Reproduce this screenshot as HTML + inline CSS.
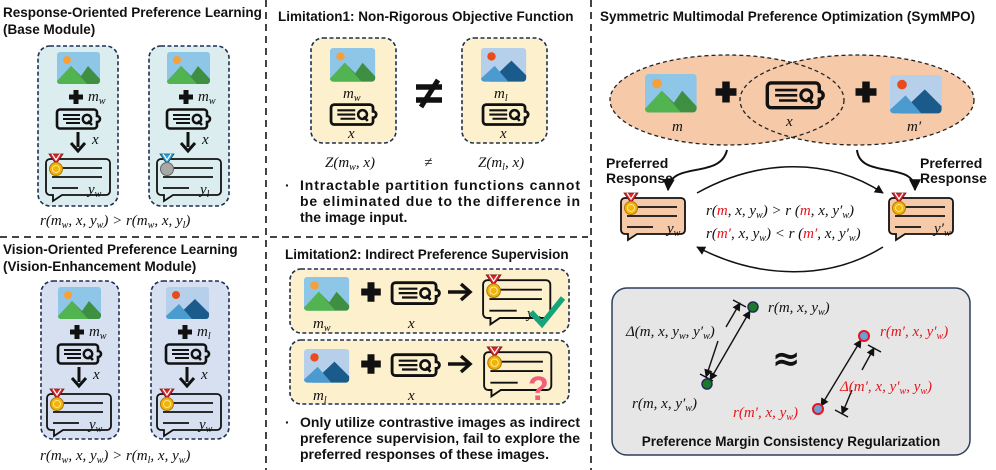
<!DOCTYPE html>
<html><head><meta charset="utf-8"><style>
html,body{margin:0;padding:0;background:#fff}
svg{display:block}
.t{font-family:"Liberation Sans",sans-serif;font-weight:bold;font-size:13.5px;fill:#111}
.b{font-family:"Liberation Sans",sans-serif;font-weight:bold;font-size:14px;fill:#111}
.m{font-family:"Liberation Serif",serif;font-style:italic;font-size:15px;fill:#111}
.r{fill:#e8141c}
</style></head><body>
<svg width="996" height="470" viewBox="0 0 996 470" xmlns="http://www.w3.org/2000/svg">
<defs>
<g id="imgG">
<rect x="0" y="0" width="43" height="32" rx="3" fill="#8ec6e8"/>
<circle cx="10" cy="8" r="4" fill="#f7a03a"/>
<path d="M0,30 L14,14 L24,24 L31,14 L43,27 V29 a3,3 0 0 1 -3,3 H3 a3,3 0 0 1 -3,-3Z" fill="#3f8f42"/>
<path d="M0,29 L14,14 L30,32 H3 a3,3 0 0 1 -3,-3Z" fill="#52b450"/>
</g>
<g id="imgB">
<rect x="0" y="0" width="43" height="32" rx="3" fill="#b6cfea"/>
<circle cx="10" cy="8" r="4" fill="#ea4a1c"/>
<path d="M8,32 L29,12 L43,26 V29 a3,3 0 0 1 -3,3Z" fill="#1a5b8c"/>
<path d="M0,29 L13,17 L26,32 H3 a3,3 0 0 1 -3,-3Z" fill="#4b9bd0"/>
</g>
<g id="qry" fill="none" stroke="#111">
<path d="M4,1.5 H38 a3,3 0 0 1 3,3 V8 a3,3 0 0 1 0,6 V17.5 a3,3 0 0 1 -3,3 H4 a3,3 0 0 1 -3,-3 V4.5 a3,3 0 0 1 3,-3Z" stroke-width="2.6"/>
<path d="M7,7 H24 M7,11 H24 M10,15 H24" stroke-width="2"/>
<circle cx="31" cy="11" r="4.2" stroke-width="2.4"/>
<path d="M32,13 L36,17" stroke-width="2.4"/>
</g>
<g id="bub">
<path d="M6,4 H62 a4,4 0 0 1 4,4 V36 a4,4 0 0 1 -4,4 H18 L9,46 V40 H6 a4,4 0 0 1 -4,-4 V8 a4,4 0 0 1 4,-4Z" stroke="#111" stroke-width="1.8"/>
<path d="M18,13 H58 M8,22 H58 M8,33 H34" stroke="#111" stroke-width="1.8"/>
<path d="M5,-1 L12,9 L19,-1 Z" fill="#d7262e" stroke="#7a1515" stroke-width="0.8"/>
<path d="M8,-1 L12,5 L16,-1" fill="none" stroke="#fff" stroke-width="1.2"/>
<circle cx="12" cy="14" r="6.5" fill="#f2b40c" stroke="#b07a05" stroke-width="1"/>
<circle cx="12" cy="14" r="3.5" fill="none" stroke="#fff3b0" stroke-width="0.8"/>
</g>
<g id="bubS">
<path d="M6,4 H62 a4,4 0 0 1 4,4 V36 a4,4 0 0 1 -4,4 H18 L9,46 V40 H6 a4,4 0 0 1 -4,-4 V8 a4,4 0 0 1 4,-4Z" stroke="#111" stroke-width="1.8"/>
<path d="M18,13 H58 M8,22 H58 M8,33 H34" stroke="#111" stroke-width="1.8"/>
<path d="M5,-1 L12,9 L19,-1 Z" fill="#2aa0e0" stroke="#155" stroke-width="0.8"/>
<path d="M8,-1 L12,5 L16,-1" fill="none" stroke="#fff" stroke-width="1.2"/>
<circle cx="12" cy="14" r="6.5" fill="#a8a8a8" stroke="#666" stroke-width="1"/>
</g>
<path id="plus" d="M-2.5,-7 H2.5 V-2.5 H7 V2.5 H2.5 V7 H-2.5 V2.5 H-7 V-2.5 H-2.5Z" fill="#111"/>
<g id="dn"><path d="M0,0 V15" stroke="#111" stroke-width="3"/><path d="M-7,11 L0,19 L7,11" fill="none" stroke="#111" stroke-width="3"/></g>
<g id="rt"><path d="M0,0 H20" stroke="#111" stroke-width="3.5"/><path d="M13,-8 L22,0 L13,8" fill="none" stroke="#111" stroke-width="3.5"/></g>
<marker id="ah" viewBox="0 0 10 10" refX="9" refY="5" markerWidth="6" markerHeight="6" orient="auto-start-reverse"><path d="M0,0 L10,5 L0,10Z" fill="#111"/></marker>
</defs>

<!-- dividers -->
<g stroke="#444" stroke-width="2" stroke-dasharray="7,5" fill="none">
<path d="M266,0 V470"/><path d="M591,0 V470"/>
<path d="M0,237 H262"/><path d="M270,237 H588"/>
</g>

<!-- LEFT TOP -->
<text class="t" x="3" y="17">Response-Oriented Preference Learning</text>
<text class="t" x="3" y="34">(Base Module)</text>
<g stroke="#1f2f52" stroke-width="1.6" stroke-dasharray="4,2.5">
<rect x="38" y="46" width="80" height="160" rx="12" fill="#dcedef"/>
<rect x="149" y="46" width="80" height="160" rx="12" fill="#dcedef"/>
<rect x="41" y="281" width="78" height="158" rx="12" fill="#d6e0f1"/>
<rect x="151" y="281" width="78" height="158" rx="12" fill="#d6e0f1"/>
</g>
<use href="#imgG" x="57" y="52"/><use href="#plus" x="76" y="97"/><text class="m" x="88" y="101">m<tspan font-size="10" dy="3">w</tspan></text>
<use href="#qry" x="56" y="108"/><use href="#dn" x="78" y="132"/><text class="m" x="92" y="144">x</text>
<use href="#bub" x="44" y="155" fill="none"/><text class="m" x="88" y="194">y<tspan font-size="10" dy="3">w</tspan></text>

<use href="#imgG" x="167" y="52"/><use href="#plus" x="186" y="97"/><text class="m" x="198" y="101">m<tspan font-size="10" dy="3">w</tspan></text>
<use href="#qry" x="166" y="108"/><use href="#dn" x="188" y="132"/><text class="m" x="202" y="144">x</text>
<use href="#bubS" x="155" y="155" fill="none"/><text class="m" x="200" y="194">y<tspan font-size="10" dy="3">l</tspan></text>
<text class="m" x="40" y="225" font-size="16">r(m<tspan font-size="10" dy="3">w</tspan><tspan dy="-3">, x, y</tspan><tspan font-size="10" dy="3">w</tspan><tspan dy="-3">)  &gt;  r(m</tspan><tspan font-size="10" dy="3">w</tspan><tspan dy="-3">, x, y</tspan><tspan font-size="10" dy="3">l</tspan><tspan dy="-3">)</tspan></text>

<!-- LEFT BOTTOM -->
<text class="t" x="3" y="254">Vision-Oriented Preference Learning</text>
<text class="t" x="3" y="271">(Vision-Enhancement  Module)</text>
<use href="#imgG" x="58" y="287"/><use href="#plus" x="77" y="332"/><text class="m" x="89" y="336">m<tspan font-size="10" dy="3">w</tspan></text>
<use href="#qry" x="57" y="343"/><use href="#dn" x="79" y="367"/><text class="m" x="93" y="379">x</text>
<use href="#bub" x="45" y="390" fill="none"/><text class="m" x="89" y="429">y<tspan font-size="10" dy="3">w</tspan></text>

<use href="#imgB" x="166" y="287"/><use href="#plus" x="185" y="332"/><text class="m" x="197" y="336">m<tspan font-size="10" dy="3">l</tspan></text>
<use href="#qry" x="165" y="343"/><use href="#dn" x="187" y="367"/><text class="m" x="201" y="379">x</text>
<use href="#bub" x="155" y="390" fill="none"/><text class="m" x="199" y="429">y<tspan font-size="10" dy="3">w</tspan></text>
<text class="m" x="40" y="460" font-size="16">r(m<tspan font-size="10" dy="3">w</tspan><tspan dy="-3">, x, y</tspan><tspan font-size="10" dy="3">w</tspan><tspan dy="-3">)  &gt;  r(m</tspan><tspan font-size="10" dy="3">l</tspan><tspan dy="-3">, x, y</tspan><tspan font-size="10" dy="3">w</tspan><tspan dy="-3">)</tspan></text>

<!-- MIDDLE TOP -->
<text class="t" x="278" y="21">Limitation1: Non-Rigorous Objective Function</text>
<g stroke="#1f2f52" stroke-width="1.6" stroke-dasharray="4,2.5" fill="#fdf0cd">
<rect x="311" y="38" width="85" height="105" rx="12"/>
<rect x="462" y="38" width="85" height="105" rx="12"/>
<rect x="290" y="269" width="279" height="64" rx="11"/>
<rect x="290" y="340" width="279" height="64" rx="11"/>
</g>
<use href="#imgG" transform="translate(330,48) scale(1.05)"/><text class="m" x="343" y="98">m<tspan font-size="10" dy="3">w</tspan></text>
<use href="#qry" transform="translate(330,103) scale(1.05)"/><text class="m" x="348" y="138">x</text>
<use href="#imgB" transform="translate(481,48) scale(1.05)"/><text class="m" x="494" y="98">m<tspan font-size="10" dy="3">l</tspan></text>
<use href="#qry" transform="translate(482,103) scale(1.05)"/><text class="m" x="500" y="138">x</text>
<g stroke="#111" stroke-width="5.5"><path d="M416,87 H442 M416,100 H442"/><path d="M438,80 L421,107" stroke-width="5"/></g>
<text class="m" x="325" y="167" font-size="16">Z(m<tspan font-size="10" dy="3">w</tspan><tspan dy="-3">, x)</tspan></text>
<text class="m" x="424" y="167" font-size="16">≠</text>
<text class="m" x="478" y="167" font-size="16">Z(m<tspan font-size="10" dy="3">l</tspan><tspan dy="-3">, x)</tspan></text>
<text class="b" x="285" y="190">·</text>
<text class="b" x="300" y="190" textLength="280" lengthAdjust="spacing">Intractable partition functions cannot</text>
<text class="b" x="300" y="206" textLength="280" lengthAdjust="spacing">be eliminated due to the difference in</text>
<text class="b" x="300" y="222">the image input.</text>

<!-- MIDDLE BOTTOM -->
<text class="t" x="285" y="259">Limitation2: Indirect Preference Supervision</text>
<use href="#imgG" transform="translate(304,277) scale(1.05)"/>
<use href="#plus" transform="translate(371,292) scale(1.4)"/><text class="m" x="313" y="328">m<tspan font-size="10" dy="3">w</tspan></text>
<use href="#qry" transform="translate(391,281) scale(1.1)"/><text class="m" x="408" y="328">x</text>
<use href="#rt" x="448" y="292"/>
<use href="#bub" transform="translate(481,276) scale(1.05)" fill="none"/><text class="m" x="527" y="318">y<tspan font-size="10" dy="3">w</tspan></text>
<path d="M531,312 L542,324 L563,298" fill="none" stroke="#16a57a" stroke-width="5.5"/>
<use href="#imgB" transform="translate(304,349) scale(1.05)"/>
<use href="#plus" transform="translate(371,364) scale(1.4)"/><text class="m" x="313" y="400">m<tspan font-size="10" dy="3">l</tspan></text>
<use href="#qry" transform="translate(391,353) scale(1.1)"/><text class="m" x="408" y="400">x</text>
<use href="#rt" x="448" y="364"/>
<use href="#bub" transform="translate(482,348) scale(1.05)" fill="none"/>
<text x="528" y="400" font-family="Liberation Sans,sans-serif" font-weight="bold" font-size="34" fill="#f0607a">?</text>
<text class="b" x="285" y="427">·</text>
<text class="b" x="300" y="427" textLength="280" lengthAdjust="spacing">Only utilize contrastive images as indirect</text>
<text class="b" x="300" y="443" textLength="280" lengthAdjust="spacing">preference supervision, fail to explore the</text>
<text class="b" x="300" y="459">preferred responses of these images.</text>

<!-- RIGHT -->
<text class="t" x="600" y="21">Symmetric Multimodal Preference Optimization (SymMPO)</text>
<g fill="#f6c9a9" stroke="none">
<ellipse cx="727" cy="100" rx="117" ry="45"/>
<ellipse cx="857" cy="100" rx="117" ry="45"/>
</g>
<g fill="none" stroke="#222" stroke-width="1.3" stroke-dasharray="4,3">
<ellipse cx="727" cy="100" rx="117" ry="45"/>
<ellipse cx="857" cy="100" rx="117" ry="45"/>
</g>
<use href="#imgG" transform="translate(645,74) scale(1.2)"/>
<use href="#plus" transform="translate(726,92) scale(1.5)"/>
<use href="#qry" transform="translate(766,81) scale(1.3)"/>
<use href="#plus" transform="translate(866,92) scale(1.5)"/>
<use href="#imgB" transform="translate(890,75) scale(1.2)"/>
<text class="m" x="672" y="131">m</text>
<text class="m" x="786" y="126">x</text>
<text class="m" x="907" y="131">m′</text>

<text class="b" x="606" y="168">Preferred</text>
<text class="b" x="606" y="183">Response</text>
<text class="b" x="920" y="168">Preferred</text>
<text class="b" x="920" y="183">Response</text>
<g fill="none" stroke="#111" stroke-width="2">
<path d="M727,150 C720,180 670,160 668,190" marker-end="url(#ah)"/>
<path d="M857,150 C860,180 915,160 915,190" marker-end="url(#ah)"/>
<path d="M697,193 C760,158 830,158 883,193" stroke-width="1.5" marker-end="url(#ah)"/>
<path d="M883,247 C830,280 760,280 697,247" stroke-width="1.5" marker-end="url(#ah)"/>
</g>
<use href="#bub" x="619" y="194" fill="#f6c9a9"/><text class="m" x="667" y="233">y<tspan font-size="10" dy="3">w</tspan></text>
<use href="#bub" x="887" y="194" fill="#f6c9a9"/><text class="m" x="934" y="233">y′<tspan font-size="10" dy="3">w</tspan></text>
<text class="m" x="706" y="215">r(<tspan class="r">m</tspan>, x, y<tspan font-size="10" dy="3">w</tspan><tspan dy="-3">) &gt; r (</tspan><tspan class="r">m</tspan>, x, y′<tspan font-size="10" dy="3">w</tspan><tspan dy="-3">)</tspan></text>
<text class="m" x="706" y="238">r(<tspan class="r">m′</tspan>, x, y<tspan font-size="10" dy="3">w</tspan><tspan dy="-3">) &lt; r (</tspan><tspan class="r">m′</tspan>, x, y′<tspan font-size="10" dy="3">w</tspan><tspan dy="-3">)</tspan></text>

<rect x="612" y="288" width="358" height="167" rx="15" fill="#e6e6e6" stroke="#2e3f5e" stroke-width="1.5"/>
<g stroke="#111" stroke-width="1.4" fill="none">
<path d="M750,311 L710,380" marker-start="url(#ah)" marker-end="url(#ah)"/>
<path d="M733,300 L746,307 M700,374 L713,381"/>
<path d="M740,303 L726,327" marker-start="url(#ah)"/>
<path d="M718,341 L706,377" marker-end="url(#ah)"/>
<path d="M861,340 L821,406" marker-start="url(#ah)" marker-end="url(#ah)"/>
<path d="M868,345 L881,352 M835,410 L848,417"/>
<path d="M874,348 L862,370" marker-start="url(#ah)"/>
<path d="M852,390 L842,414" marker-end="url(#ah)"/>
</g>
<circle cx="753" cy="307" r="5" fill="#1a7a2a" stroke="#1f2f52" stroke-width="1.5"/>
<circle cx="707" cy="384" r="5" fill="#1a7a2a" stroke="#1f2f52" stroke-width="1.5"/>
<circle cx="864" cy="336" r="5" fill="#6aa0d8" stroke="#e8141c" stroke-width="2"/>
<circle cx="818" cy="409" r="5" fill="#6aa0d8" stroke="#e8141c" stroke-width="2"/>
<text class="m" x="768" y="312">r(m, x, y<tspan font-size="10" dy="3">w</tspan><tspan dy="-3">)</tspan></text>
<text class="m" x="626" y="336">Δ(m, x, y<tspan font-size="10" dy="3">w</tspan><tspan dy="-3">, y′</tspan><tspan font-size="10" dy="3">w</tspan><tspan dy="-3">)</tspan></text>
<text class="m" x="632" y="408">r(m, x, y′<tspan font-size="10" dy="3">w</tspan><tspan dy="-3">)</tspan></text>
<text class="m r" x="880" y="336">r(m′, x, y′<tspan font-size="10" dy="3">w</tspan><tspan dy="-3">)</tspan></text>
<text class="m r" x="840" y="391">Δ(m′, x, y′<tspan font-size="10" dy="3">w</tspan><tspan dy="-3">, y</tspan><tspan font-size="10" dy="3">w</tspan><tspan dy="-3">)</tspan></text>
<text class="m r" x="733" y="417">r(m′, x, y<tspan font-size="10" dy="3">w</tspan><tspan dy="-3">)</tspan></text>
<text x="772" y="370" font-family="DejaVu Sans,sans-serif" font-weight="bold" font-size="34" fill="#111">≈</text>
<text class="t" x="791" y="446" text-anchor="middle">Preference Margin Consistency Regularization</text>
</svg>
</body></html>
